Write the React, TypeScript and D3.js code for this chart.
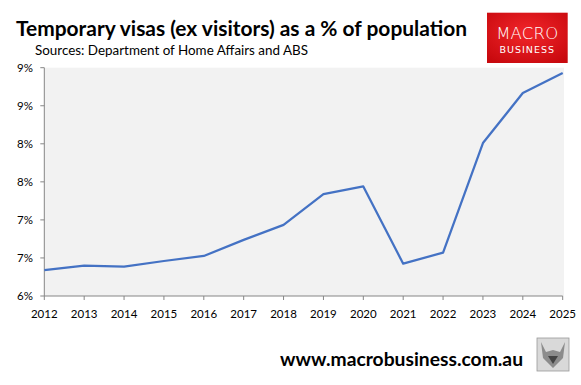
import React from "react";
import * as d3 from "d3";

const years = [2012, 2013, 2014, 2015, 2016, 2017, 2018, 2019, 2020, 2021, 2022, 2023, 2024, 2025];
const values = [6.34, 6.4, 6.386, 6.46, 6.526, 6.737, 6.934, 7.338, 7.44, 6.425, 6.57, 8.01, 8.667, 8.93];
const yTicks = [6, 6.5, 7, 7.5, 8, 8.5, 9];

export default function App() {
  const W = 581, H = 385;
  const left = 44.3, right = 562.7, top = 67.7, bottom = 296;
  const x = d3.scaleLinear().domain([2012, 2025]).range([left, right]);
  const y = d3.scaleLinear().domain([6, 9]).range([bottom, top]);
  const line = d3.line<number>().x((_, i) => x(years[i])).y((d) => y(d));
  const font = "Lato, 'Open Sans', sans-serif";
  const axisColor = "#868686";
  return (
    <svg width={W} height={H} style={{ position: "absolute", left: 0, top: 0 }} fontFamily={font}>
      <rect x={0} y={0} width={W} height={H} fill="#fff" />
      <text x={16} y={36} fontSize={21} fontWeight={700} fill="#000" textLength={451} lengthAdjust="spacingAndGlyphs">Temporary visas (ex visitors) as a % of population</text>
      <text x={35} y={55} fontSize={13.5} fill="#000" textLength={273} lengthAdjust="spacingAndGlyphs">Sources: Department of Home Affairs and ABS</text>
      <defs>
        <radialGradient id="lg" cx="50%" cy="40%" r="70%">
          <stop offset="0%" stopColor="#f2262a" />
          <stop offset="100%" stopColor="#c8090e" />
        </radialGradient>
      </defs>
      <rect x={487} y={12.7} width={80.7} height={50.3} fill="url(#lg)" />
      <text x={527.3} y={39} fontSize={16.5} fill="#fff" textAnchor="middle" fontFamily="'DejaVu Sans', sans-serif" fontWeight={300} letterSpacing={0.2}>MACRO</text>
      <text x={527.3} y={53} fontSize={9.5} fill="#fff" textAnchor="middle" fontFamily="'DejaVu Sans', sans-serif" letterSpacing={1}>BUSINESS</text>
      <rect x={left} y={top} width={564 - left} height={bottom - top} fill="#f2f2f2" />
      <line x1={left} x2={left} y1={top} y2={bottom} stroke={axisColor} strokeWidth={1} />
      <line x1={left} x2={right} y1={bottom} y2={bottom} stroke={axisColor} strokeWidth={1} />
      {yTicks.map((t) => (
        <g key={t}>
          <line x1={left - 4} x2={left} y1={y(t)} y2={y(t)} stroke={axisColor} />
          <text x={33} y={y(t) + 4} fontSize={11.5} textAnchor="end" fill="#000">{Math.round(t) + "%"}</text>
        </g>
      ))}
      {years.map((yr) => (
        <g key={yr}>
          <line x1={x(yr)} x2={x(yr)} y1={bottom} y2={bottom + 4} stroke={axisColor} />
          <text x={x(yr)} y={318} fontSize={11.5} textAnchor="middle" fill="#000">{yr}</text>
        </g>
      ))}
      <path d={line(values) || ""} fill="none" stroke="#4472c4" strokeWidth={2.25} strokeLinejoin="round" />
      <text x={280} y={366} fontSize={18.5} fontWeight={700} fill="#000" textLength={243} lengthAdjust="spacingAndGlyphs">www.macrobusiness.com.au</text>
      <rect x={537} y={338} width={32} height={33} fill="#d9d9d9" stroke="#9a9a9a" strokeWidth={0.8} />
      <path d="M541,342 L546,352 L553,350 L560,352 L565,342 L563,358 L553,368 L543,358 Z" fill="#8c8c8c" />
      <path d="M548,356 L553,364 L558,356 Z" fill="#444" />
    </svg>
  );
}
